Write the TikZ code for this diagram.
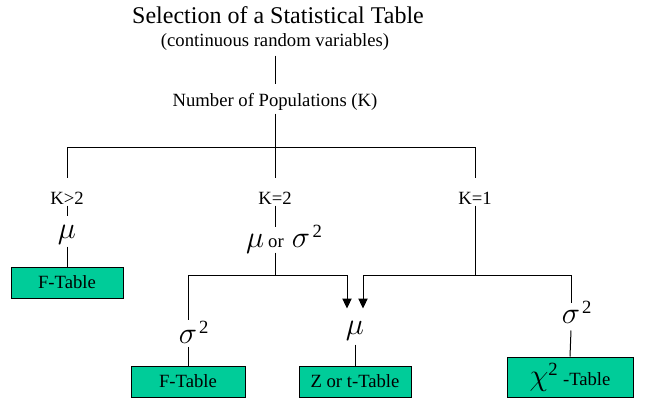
\RequirePackage{fix-cm}
\documentclass[tikz,border=0pt]{standalone}
\usepackage{fontspec}
\setmainfont{Liberation Serif}
\usetikzlibrary{arrows.meta}
\definecolor{boxgreen}{HTML}{00CC99}
\newcommand\suptwo{\raisebox{7.5pt}{\upshape\fontsize{14}{16}\selectfont 2}}
\begin{document}
\begin{tikzpicture}[x=0.75pt,y=-0.75pt,line width=0.75pt,
  lbl/.style={anchor=base,inner xsep=1pt,inner ysep=0pt,font=\fontsize{14}{16}\selectfont},
  klbl/.style={lbl,text height=19.5pt,text depth=0.75pt},
  gk/.style={anchor=base,inner xsep=1pt,inner ysep=0pt,font=\fontsize{23}{27}\selectfont},
  tbl/.style={draw,fill=boxgreen,inner sep=0pt,font=\fontsize{14}{16}\selectfont},
  arr/.style={-{Triangle[width=7pt,length=7.5pt]}}]
\useasboundingbox (0,0) rectangle (647,404);
% texts
\node[anchor=base,font=\fontsize{18}{20}\selectfont] (title) at (278,23) {Selection of a Statistical Table};
\node[lbl,text depth=6.75pt] (sub) at (275,46) {(continuous random variables)};
\node[lbl,text height=16.5pt,text depth=5.25pt] (npop) at (275,106) {Number of Populations (K)};
\node[klbl] (kg) at (67,204) {K>2};
\node[klbl] (ke) at (275,204) {K=2};
\node[klbl] (ko) at (475,204) {K=1};
\node[gk,text height=16.5pt,text depth=6pt] (mu3) at (67,238) {$\mu$};
\node[gk,text height=15pt,text depth=3.75pt] (mor) at (276,247)
  {\llap{$\mu$\kern3pt}{\fontsize{14}{16}\selectfont or}\rlap{\kern6pt $\sigma$\kern2pt\suptwo}};
\node[gk,text height=18.75pt,text depth=7.5pt] (muL) at (355,334) {$\mu$};
\node[gk,text height=17.25pt,text depth=2.25pt] (sigL) at (188,343) {$\sigma$\rlap{\kern1.5pt\suptwo}};
\node[gk,text height=15pt,text depth=5.25pt] (sigR) at (571,323) {$\sigma$\rlap{\kern1.5pt\suptwo}};
% boxes
\node[tbl,minimum width=84pt,minimum height=23.25pt] (f1) at (67,282.5) {F-Table};
\node[tbl,minimum width=85.5pt,minimum height=23.25pt] (f2) at (188,381.5) {F-Table};
\node[tbl,minimum width=84pt,minimum height=23.25pt] (zt) at (355,381.5) {Z or t-Table};
\node[tbl,minimum width=94.5pt,minimum height=30pt] (chi) at (570,377)
  {{\fontsize{23}{27}\selectfont$\chi$}\suptwo\kern4pt-Table};
% junctions
\coordinate (top) at (275,147);
\coordinate (jL) at (275,275);
\coordinate (jR) at (475,275);
% connectors
\draw (sub.south) -- (npop.north);
\draw (npop.south) -- (top);
\draw (kg.north) -- (kg.north |- top) -- (ko.north |- top) -- (ko.north);
\draw (top) -- (ke.north);
\draw (kg.south) -- (mu3.north);
\draw (mu3.south) -- (f1.north);
\draw (ke.south) -- (ke.south |- mor.north);
\draw (ke.south |- mor.south) -- (jL);
\draw (jL) -| (sigL.north);
\draw[arr] (jL) -| ([xshift=-6pt]muL.north);
\draw (ko.south) -- (jR);
\draw[arr] (jR) -| ([xshift=6pt]muL.north);
\draw (jR) -| (sigR.north);
\draw (sigL.south) -- (f2.north);
\draw (muL.south) -- (zt.north);
\draw (sigR.south) -- (chi.north);
\end{tikzpicture}
\end{document}
